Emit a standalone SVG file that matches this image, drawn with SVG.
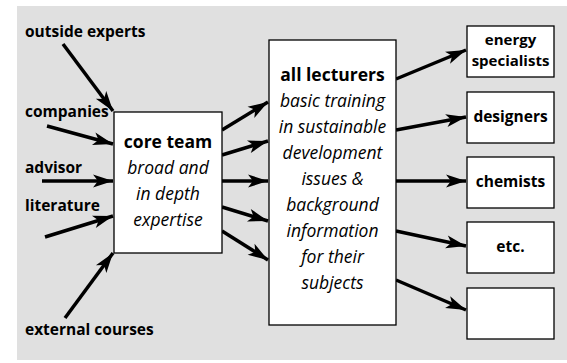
<svg xmlns="http://www.w3.org/2000/svg" width="567" height="363" viewBox="0 0 567 363">
<style>
.bg{fill:#e0e0e0}
.box{fill:#fff;stroke:#000;stroke-width:1.3}
.t{font-family:"Open Sans","Liberation Sans",sans-serif;font-size:15.5px;fill:#000}
.b{font-weight:bold}
.i{font-style:italic;font-size:17.5px}
.h{font-size:17.5px}
.s{font-size:15px}
.c{text-anchor:middle}
.arr{stroke:#000;stroke-width:3.5;fill:none;marker-end:url(#ah)}
</style>
<defs>
<marker id="ah" markerUnits="userSpaceOnUse" markerWidth="24" markerHeight="16" viewBox="-1 -8 24 16" refX="20" refY="0" orient="auto">
<path d="M0,-6.5 L20,0 L0,6.5 L5,0 Z" fill="#000"/>
</marker>
</defs>
<rect class="bg" x="17" y="6" width="550" height="354"/>
<g id="connectors">
<line class="arr" x1="63" y1="44" x2="113" y2="111"/>
<line class="arr" x1="47" y1="126" x2="113" y2="144"/>
<line class="arr" x1="42" y1="181" x2="113" y2="181"/>
<line class="arr" x1="45" y1="237" x2="113" y2="216"/>
<line class="arr" x1="65" y1="318" x2="113" y2="253"/>
<line class="arr" x1="222" y1="130" x2="268" y2="102"/>
<line class="arr" x1="222" y1="155" x2="268" y2="141"/>
<line class="arr" x1="222" y1="181" x2="268" y2="181"/>
<line class="arr" x1="222" y1="207" x2="268" y2="221"/>
<line class="arr" x1="222" y1="231" x2="268" y2="260"/>
<line class="arr" x1="396" y1="79" x2="466" y2="50"/>
<line class="arr" x1="396" y1="130" x2="466" y2="117"/>
<line class="arr" x1="396" y1="181" x2="466" y2="181"/>
<line class="arr" x1="396" y1="231" x2="466" y2="246"/>
<line class="arr" x1="396" y1="280" x2="466" y2="310"/>
</g>
<g id="src-outside-experts"><text class="t b" x="25" y="37">outside experts</text></g>
<g id="src-companies"><text class="t b" x="25" y="117">companies</text></g>
<g id="src-advisor"><text class="t b" x="25" y="173">advisor</text></g>
<g id="src-literature"><text class="t b" x="25" y="211">literature</text></g>
<g id="src-external-courses"><text class="t b" x="25" y="335">external courses</text></g>
<g id="core-team">
<rect class="box" x="114" y="112" width="108" height="141"/>
<text class="t b h c" x="168" y="148">core team</text>
<text class="t i c" x="168" y="174">broad and</text>
<text class="t i c" x="168" y="200">in depth</text>
<text class="t i c" x="168" y="226">expertise</text>
</g>
<g id="all-lecturers">
<rect class="box" x="269" y="40" width="127" height="285"/>
<text class="t b h c" x="332.5" y="81">all lecturers</text>
<text class="t i c" x="332.5" y="107">basic training</text>
<text class="t i c" x="332.5" y="133">in sustainable</text>
<text class="t i c" x="332.5" y="159">development</text>
<text class="t i c" x="332.5" y="185">issues &amp;</text>
<text class="t i c" x="332.5" y="211">background</text>
<text class="t i c" x="332.5" y="237">information</text>
<text class="t i c" x="332.5" y="263">for their</text>
<text class="t i c" x="332.5" y="289">subjects</text>
</g>
<g id="energy-specialists">
<rect class="box" x="467" y="26" width="87" height="51"/>
<text class="t b s c" x="510.5" y="45">energy</text>
<text class="t b s c" x="510.5" y="66">specialists</text>
</g>
<g id="designers">
<rect class="box" x="467" y="92" width="87" height="51"/>
<text class="t b c" x="510.5" y="122">designers</text>
</g>
<g id="chemists">
<rect class="box" x="467" y="157" width="87" height="51"/>
<text class="t b c" x="510.5" y="187">chemists</text>
</g>
<g id="etc">
<rect class="box" x="467" y="222" width="87" height="51"/>
<text class="t b c" x="510.5" y="252">etc.</text>
</g>
<g id="empty">
<rect class="box" x="467" y="288" width="87" height="51"/>
</g>
</svg>
